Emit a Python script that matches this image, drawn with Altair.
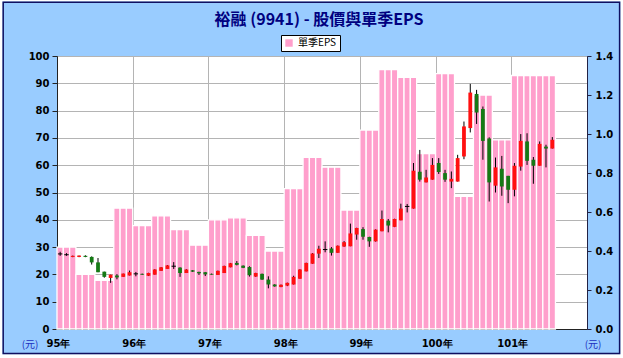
import altair as alt
import pandas as pd

# ---- data ----
title_text = "裕融 (9941) - 股價與單季EPS"
legend_label = "單季EPS"
unit_label = "(元)"
year_labels = ["95年", "96年", "97年", "98年", "99年", "100年", "101年"]

# quarterly EPS (95Q1 .. 101Q3), each quarter spans three monthly bars
eps_quarterly = [0.42, 0.28, 0.25, 0.62,
                 0.53, 0.58, 0.51, 0.43,
                 0.56, 0.57, 0.48, 0.40,
                 0.72, 0.88, 0.83, 0.61,
                 1.02, 1.33, 1.29, 0.90,
                 1.31, 0.68, 1.20, 0.97,
                 1.30, 1.30, 1.30]

# monthly candles from 95/01
opens = [27.5, 27.2, 26.4, 26.4, 26.8, 26.4, 24.4, 21.0, 18.7, 19.6, 19.1, 19.6,
         20.2, 20.2, 19.5, 19.9, 21.3, 22.0, 23.0, 22.5, 20.5, 21.5, 20.9, 20.8,
         20.2, 19.8, 20.5, 22.6, 24.2, 23.2, 22.7, 19.2, 20.2, 18.1, 16.3, 15.4,
         15.9, 16.3, 18.4, 21.1, 23.9, 27.6, 29.1, 29.5, 27.9, 30.2, 30.3, 34.6,
         36.6, 33.7, 32.1, 35.8, 39.7, 37.4, 39.8, 44.9, 44.1, 57.6, 53.7, 54.7,
         60.8, 57.1, 54.0, 54.0, 63.2, 73.6, 86.1, 80.6, 69.8, 52.5, 58.7, 56.1,
         51.0, 59.5, 68.7, 62.0, 59.8, 66.8, 66.1]
highs = [28.3, 27.8, 26.9, 26.9, 27.0, 26.6, 26.0, 21.0, 19.9, 20.1, 20.3, 21.4,
         20.9, 20.3, 20.6, 21.9, 22.7, 23.4, 24.5, 22.6, 21.9, 21.6, 21.0, 20.9,
         20.3, 21.4, 23.2, 24.2, 24.9, 23.3, 23.0, 20.6, 20.3, 19.3, 16.4, 16.3,
         17.0, 19.5, 21.9, 24.3, 27.8, 30.5, 32.1, 30.0, 30.6, 32.2, 38.6, 37.1,
         37.3, 33.8, 36.5, 43.4, 40.3, 40.4, 45.9, 45.8, 60.8, 65.6, 58.3, 62.6,
         62.6, 58.3, 57.7, 63.8, 76.0, 89.8, 87.6, 81.5, 70.2, 62.8, 63.4, 56.1,
         60.8, 71.4, 71.7, 63.0, 68.7, 67.5, 70.3]
lows = [26.8, 26.8, 26.3, 26.3, 26.3, 23.6, 20.8, 18.8, 16.9, 18.2, 19.1, 19.6,
        19.3, 19.8, 19.4, 19.9, 21.3, 22.0, 22.0, 19.1, 20.5, 20.9, 19.8, 19.4,
        19.9, 19.8, 20.5, 22.6, 23.3, 22.3, 19.2, 19.1, 18.0, 14.9, 15.5, 15.3,
        15.7, 16.3, 18.4, 21.1, 23.9, 26.0, 28.1, 26.9, 27.9, 30.1, 30.3, 32.7,
        32.7, 30.1, 32.0, 35.8, 35.4, 37.3, 39.8, 42.7, 44.1, 54.0, 53.7, 54.7,
        56.8, 53.9, 51.6, 54.0, 62.2, 72.0, 75.1, 62.0, 46.7, 50.0, 48.8, 46.1,
        48.6, 58.0, 60.1, 53.2, 59.8, 59.2, 66.1]
closes = [27.5, 27.2, 26.8, 26.9, 26.4, 24.4, 20.8, 19.1, 19.9, 18.9, 20.3, 20.8,
          20.2, 19.9, 20.5, 21.8, 22.6, 23.3, 23.0, 20.5, 21.8, 21.0, 20.4, 20.0,
          19.9, 21.3, 23.1, 24.1, 23.5, 22.4, 19.7, 20.5, 18.1, 16.3, 15.6, 16.2,
          16.9, 19.1, 21.8, 24.2, 27.7, 29.4, 29.1, 27.9, 30.5, 31.8, 35.0, 37.0,
          33.8, 32.1, 36.4, 40.3, 37.9, 40.3, 44.1, 44.9, 58.0, 54.7, 55.5, 60.1,
          57.5, 54.7, 55.0, 62.6, 74.2, 86.6, 79.3, 68.9, 53.7, 59.2, 52.2, 51.0,
          59.8, 68.9, 61.6, 59.8, 67.8, 66.1, 69.3]

months = list(range(len(opens)))
eps_monthly = [eps_quarterly[m // 3] for m in months]

df = pd.DataFrame({
    "m": months,
    "eps": eps_monthly,
    "open": opens,
    "high": highs,
    "low": lows,
    "close": closes,
    "series": [legend_label] * len(months),
})

W, H = 530, 273
PAD = {"left": 57, "top": 56, "right": 36, "bottom": 29}
CW = W + PAD["left"] + PAD["right"]
CH = H + PAD["top"] + PAD["bottom"]
n_months_domain = len(year_labels) * 12

xscale = alt.Scale(domain=[0, n_months_domain], nice=False, zero=False)
label_expr = "[" + ",".join("'%s'" % s for s in year_labels) + "][round(datum.value / 12)]"

x_axis = alt.Axis(values=[i * 12 for i in range(len(year_labels))], labelExpr=label_expr,
                  grid=True, gridColor="#B4B4B4", ticks=False, labelPadding=9,
                  labelFont="DejaVu Sans", labelFontWeight="bold", labelFontSize=10,
                  labelColor="black", labelFlush=False, labelOffset=1,
                  domainColor="#222222", title=None, zindex=0)

base = alt.Chart(df)

bars = base.transform_calculate(
    xa="datum.m", xb="datum.m + 1"
).mark_bar(opacity=1, stroke="white", strokeWidth=1.3).encode(
    x=alt.X("xa:Q", scale=xscale, axis=x_axis),
    x2="xb:Q",
    y=alt.Y("eps:Q", scale=alt.Scale(domain=[0, 1.4], nice=False),
            axis=alt.Axis(orient="right", values=[0, 0.2, 0.4, 0.6, 0.8, 1.0, 1.2, 1.4],
                          format=".1f", grid=False, tickSize=4, labelPadding=4,
                          labelFont="DejaVu Sans", labelFontWeight="bold", labelFontSize=10,
                          labelColor="black", domainColor="#222244", tickColor="#222244",
                          title=None, zindex=1)),
    y2=alt.datum(0),
    color=alt.Color("series:N", scale=alt.Scale(domain=[legend_label], range=["#FF9FCC"]),
                    legend=alt.Legend(orient="none", legendX=224, legendY=-21, title=None,
                                      fillColor="white", strokeColor="black", padding=3,
                                      symbolType="square", symbolSize=55,
                                      symbolStrokeWidth=0, labelFontSize=10,
                                      labelFont="Noto Sans CJK TC", labelColor="black")),
)

price_scale = alt.Scale(domain=[0, 100], nice=False)
price_axis = alt.Axis(orient="left", values=list(range(0, 101, 10)), grid=True,
                      gridColor="#B4B4B4", tickSize=5, labelPadding=3,
                      labelFont="DejaVu Sans", labelFontWeight="bold", labelFontSize=10,
                      labelColor="black", domainColor="#222222", tickColor="#222222",
                      title=None, zindex=0)

wicks = base.transform_calculate(xc="datum.m + 0.5").mark_rule(
    color="black", strokeWidth=1
).encode(
    x=alt.X("xc:Q", scale=xscale),
    y=alt.Y("low:Q", scale=price_scale, axis=price_axis, title=None),
    y2="high:Q",
)

bodies = base.transform_filter("datum.open != datum.close").transform_calculate(
    xa="datum.m + 0.2", xb="datum.m + 0.8"
).mark_bar(opacity=1).encode(
    x=alt.X("xa:Q", scale=xscale),
    x2="xb:Q",
    y=alt.Y("open:Q", scale=price_scale, axis=price_axis, title=None),
    y2="close:Q",
    color=alt.condition("datum.close > datum.open", alt.value("#FF1010"), alt.value("#157A15")),
)

dojis = base.transform_filter("datum.open == datum.close").transform_calculate(
    xa="datum.m + 0.15", xb="datum.m + 0.85"
).mark_rule(color="black", strokeWidth=1).encode(
    x=alt.X("xa:Q", scale=xscale),
    x2="xb:Q",
    y=alt.Y("open:Q", scale=price_scale, axis=price_axis, title=None),
)

price_layer = alt.layer(wicks, bodies, dojis)

one = pd.DataFrame({"t": [title_text]})
title = alt.Chart(one).mark_text(
    font="Noto Sans CJK TC", fontSize=16, fontWeight="bold", color="#000080",
    align="center", baseline="middle"
).encode(x=alt.value(W / 2 - 3), y=alt.value(-36), text="t:N")

units = pd.DataFrame({"t": [unit_label, unit_label], "side": ["l", "r"]})
unit_l = alt.Chart(units).transform_filter("datum.side == 'l'").mark_text(
    font="Noto Sans CJK TC", fontSize=10, color="#2030C0", align="center", baseline="middle"
).encode(x=alt.value(-27), y=alt.value(H + 16), text="t:N")
unit_r = alt.Chart(units).transform_filter("datum.side == 'r'").mark_text(
    font="Noto Sans CJK TC", fontSize=10, color="#2030C0", align="center", baseline="middle"
).encode(x=alt.value(W + 6), y=alt.value(H + 16), text="t:N")

# white outer margin, then the dark frame line of the chart
margin = alt.Chart(one).mark_rect(fillOpacity=0, stroke="white", strokeWidth=4).encode(
    x=alt.value(-PAD["left"] + 0.5), x2=alt.value(CW - PAD["left"] - 0.7),
    y=alt.value(-PAD["top"] - 0.5), y2=alt.value(CH - PAD["top"] - 1.7),
)
frame = alt.Chart(one).mark_rect(fillOpacity=0, stroke="#101060", strokeWidth=1.5).encode(
    x=alt.value(-PAD["left"] + 3.2), x2=alt.value(CW - PAD["left"] - 3.4),
    y=alt.value(-PAD["top"] + 2.2), y2=alt.value(CH - PAD["top"] - 4.4),
)

chart = alt.layer(bars, price_layer, title, unit_l, unit_r, margin, frame).resolve_scale(
    y="independent", color="independent"
).properties(
    width=W, height=H,
    autosize=alt.AutoSizeParams(type="none"),
    padding=PAD,
    background="#99CCFF",
).configure_view(
    fill="white", stroke="#333333", strokeWidth=1
)

chart.save("out.html", embed_options={"renderer": "svg", "actions": False})
